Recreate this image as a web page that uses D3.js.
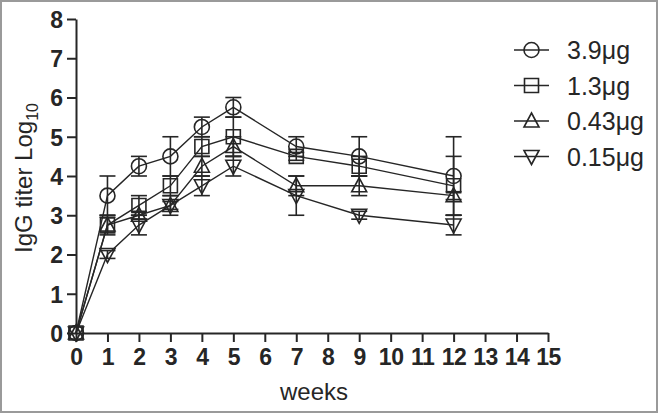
<!DOCTYPE html>
<html>
<head>
<meta charset="utf-8">
<script src="https://cdn.jsdelivr.net/npm/d3@7"></script>
<style>
  html, body { margin: 0; padding: 0; background: #fff; }
  svg { display: block; font-family: Arial, "Liberation Sans", sans-serif; }
</style>
</head>
<body>
<div id="chart"></div>
<script>
// weeks after immunisation
var weeks = [0, 1, 2, 3, 4, 5, 7, 9, 12];
var doses = ["3.9μg", "1.3μg", "0.43μg", "0.15μg"];
var shapes = ["circle", "square", "triangle", "triangleDown"];

var titer39 = [0, 3.5, 4.25, 4.5, 5.25, 5.75, 4.75, 4.5, 4.0];
var titer13 = [0, 2.75, 3.25, 3.75, 4.75, 5.0, 4.5, 4.25, 3.75];
var titer043 = [0, 2.75, 3.0, 3.25, 4.25, 4.75, 3.75, 3.75, 3.5];
var titer015 = [0, 2.0, 2.75, 3.25, 3.75, 4.25, 3.5, 3.0, 2.75];

var err39 = [0, 0.5, 0.25, 0.5, 0.25, 0.25, 0.25, 0.5, 1.0];
var err13 = [0, 0.25, 0.25, 0.25, 0.25, 0.5, 0.1, 0.25, 0.75];
var err043 = [0, 0.2, 0.1, 0.25, 0.25, 0.25, 0.25, 0.25, 0.1];
var err015 = [0, 0.1, 0.25, 0.1, 0.25, 0.25, 0.5, 0.1, 0.25];

var xTicks = d3.range(0, 16);
var yTicks = d3.range(0, 9);

var series = [
    {name: doses[0], shape: shapes[0], vals: titer39, errs: err39},
    {name: doses[1], shape: shapes[1], vals: titer13, errs: err13},
    {name: doses[2], shape: shapes[2], vals: titer043, errs: err043},
    {name: doses[3], shape: shapes[3], vals: titer015, errs: err015}
];

var W = 658, H = 413;
var svg = d3.select("#chart").append("svg").attr("width", W).attr("height", H);

svg.append("rect")
   .attr("x", 1).attr("y", 1).attr("width", W - 2).attr("height", H - 2)
   .style("fill", "#fff").style("stroke", "#9a9a9a").style("stroke-width", 2);

var x = d3.scaleLinear().domain([0, 15]).range([76, 548]);
var y = d3.scaleLinear().domain([0, 8]).range([333, 19]);

var ink = "#262626";

// axes
var xAxis = svg.append("g")
    .attr("transform", "translate(0," + y(0) + ")")
    .call(d3.axisBottom(x).tickValues(xTicks).tickSize(9).tickPadding(5).tickSizeOuter(0));
var yAxis = svg.append("g")
    .attr("transform", "translate(" + x(0) + ",0)")
    .call(d3.axisLeft(y).tickValues(yTicks).tickSize(9).tickPadding(4).tickSizeOuter(0));

[xAxis, yAxis].forEach(function(a){
    a.select(".domain").style("stroke", ink).style("stroke-width", 2);
    a.selectAll(".tick line").style("stroke", ink).style("stroke-width", 2);
    a.selectAll(".tick text")
     .style("font-size", "23px").style("font-weight", "bold").style("fill", ink);
});
xAxis.selectAll(".tick text").attr("dy", "0.8em").attr("letter-spacing", "-0.5px");
yAxis.selectAll(".tick text").attr("dy", "0.36em");

// axis titles
svg.append("text")
   .attr("x", x(7.5) + 2).attr("y", 400)
   .attr("text-anchor", "middle")
   .style("font-size", "24px").style("fill", ink)
   .text("weeks");

var yt = svg.append("text")
   .attr("transform", "translate(32," + (y(4) + 2) + ") rotate(-90)")
   .attr("text-anchor", "middle")
   .style("font-size", "24px").style("fill", ink);
yt.append("tspan").text("IgG titer Log");
yt.append("tspan").attr("dy", 6).style("font-size", "16px").text("10");

function symbolPath(shape, cx, cy) {
    var s = 7;
    if (shape === "square") {
        return "M" + (cx - s) + "," + (cy - s) + "h" + (2 * s) + "v" + (2 * s) + "h" + (-2 * s) + "Z";
    }
    if (shape === "triangle") {
        return "M" + cx + "," + (cy - 8) + "L" + (cx + 7.5) + "," + (cy + 6) + "L" + (cx - 7.5) + "," + (cy + 6) + "Z";
    }
    return "M" + cx + "," + (cy + 8) + "L" + (cx + 7.5) + "," + (cy - 6) + "L" + (cx - 7.5) + "," + (cy - 6) + "Z";
}

function drawSymbol(g, shape, cx, cy) {
    if (shape === "circle") {
        g.append("circle").attr("cx", cx).attr("cy", cy).attr("r", 7.5)
         .style("fill", "none").style("stroke", ink).style("stroke-width", 1.6);
    } else {
        g.append("path").attr("d", symbolPath(shape, cx, cy))
         .style("fill", "none").style("stroke", ink).style("stroke-width", 1.6);
    }
}

var line = d3.line()
    .x(function(d, i){ return x(weeks[i]); })
    .y(function(d){ return y(d); });

series.forEach(function(s){
    var g = svg.append("g");
    // error bars
    weeks.forEach(function(w, i){
        if (s.errs[i] <= 0) return;
        var cx = x(w), top = y(s.vals[i] + s.errs[i]), bot = y(s.vals[i] - s.errs[i]);
        g.append("line").attr("x1", cx).attr("x2", cx).attr("y1", top).attr("y2", bot)
         .style("stroke", ink).style("stroke-width", 1.6);
        [top, bot].forEach(function(yy){
            g.append("line").attr("x1", cx - 8).attr("x2", cx + 8).attr("y1", yy).attr("y2", yy)
             .style("stroke", ink).style("stroke-width", 1.6);
        });
    });
    g.append("path").datum(s.vals).attr("d", line)
     .style("fill", "none").style("stroke", ink).style("stroke-width", 1.4);
    weeks.forEach(function(w, i){
        drawSymbol(g, s.shape, x(w), y(s.vals[i]));
    });
});

// legend
var legend = svg.append("g");
series.forEach(function(s, i){
    var ly = 50 + i * 35.5;
    legend.append("line").attr("x1", 514).attr("x2", 549).attr("y1", ly).attr("y2", ly)
          .style("stroke", ink).style("stroke-width", 1.4);
    drawSymbol(legend, s.shape, 531.5, ly);
    legend.append("text").attr("x", 567).attr("y", ly).attr("dy", "0.36em")
          .style("font-size", "25px").style("fill", ink).text(s.name);
});
</script>
</body>
</html>
